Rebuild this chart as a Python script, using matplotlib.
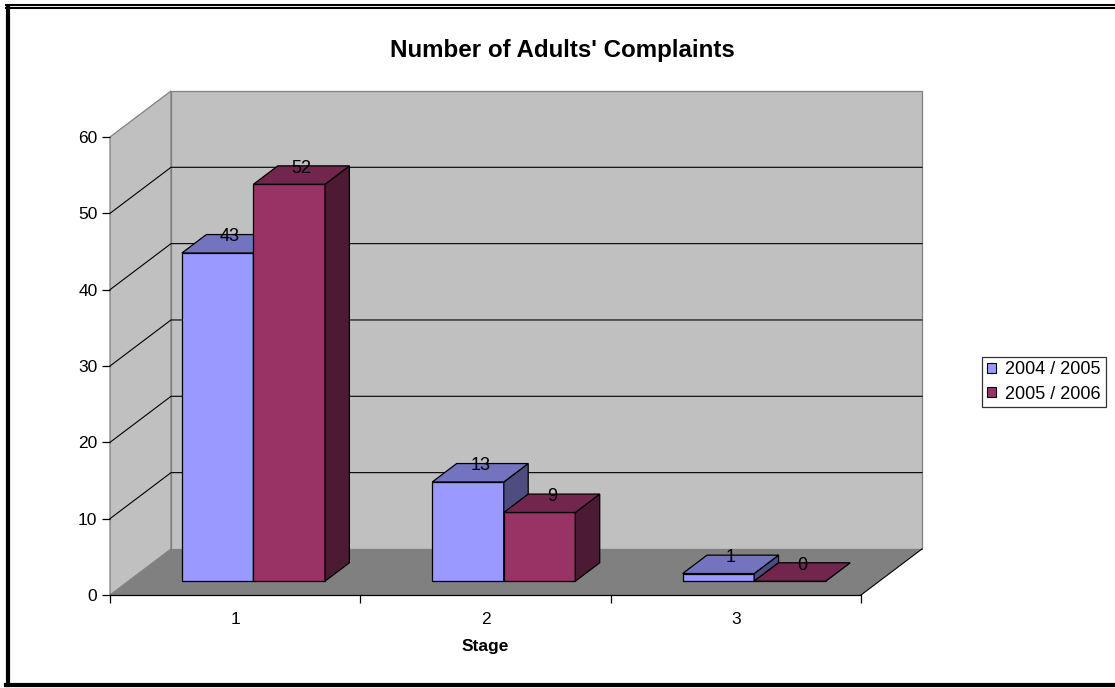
import matplotlib
matplotlib.use("Agg")
import matplotlib.pyplot as plt
import numpy as np
from matplotlib.patches import Polygon, Patch
from matplotlib.lines import Line2D

plt.rcParams["font.family"] = ["Liberation Sans", "DejaVu Sans"]

# data
categories = ["1", "2", "3"]
series_names = ["2004 / 2005", "2005 / 2006"]
values_0405 = [43, 13, 1]
values_0506 = [52, 9, 0]
y_ticks = [0, 10, 20, 30, 40, 50, 60]
title = "Number of Adults' Complaints"
x_title = "Stage"

# styling
W, H = 1115, 688
FRONT = ["#9999FF", "#993366"]
TOP = ["#7373BF", "#73264D"]
SIDE = ["#4D4D80", "#4D1A33"]
WALL = "#C0C0C0"
FLOOR = "#808080"
EDGE_GRAY = "#808080"
DX, DY = 0.2437, 6.03        # full depth offset in (category, value) units
BAR_W = 1 / 3.5              # gap width 150%
D0, D1 = 0.3, 0.7            # bar depth range
FS = 12.5


def proj(x, y, d):
    return (x + d * DX, y + d * DY)


fig = plt.figure(figsize=(W / 100, H / 100), dpi=100)
ax = fig.add_axes([110 / W, (H - 595) / H, 751 / W, 458 / H])
ax.set_xlim(0.5, len(categories) + 0.5)
ax.set_ylim(y_ticks[0], y_ticks[-1])
ax.patch.set_visible(False)

xl, xr = 0.5, len(categories) + 0.5
ymin, ymax = y_ticks[0], y_ticks[-1]

# floor
floor = Polygon([proj(xl, ymin, 0), proj(xr, ymin, 0), proj(xr, ymin, 1), proj(xl, ymin, 1)],
                closed=True, facecolor=FLOOR, edgecolor="none", clip_on=False, zorder=0.5)
ax.add_patch(floor)
ax.add_line(Line2D(*zip(proj(xr, ymin, 0), proj(xr, ymin, 1)), color="black", lw=0.8,
                   clip_on=False, zorder=0.6))

# walls
left_wall = Polygon([proj(xl, ymin, 0), proj(xl, ymin, 1), proj(xl, ymax, 1), proj(xl, ymax, 0)],
                    closed=True, facecolor=WALL, edgecolor=EDGE_GRAY, lw=0.9, clip_on=False, zorder=0.5)
back_wall = Polygon([proj(xl, ymin, 1), proj(xr, ymin, 1), proj(xr, ymax, 1), proj(xl, ymax, 1)],
                    closed=True, facecolor=WALL, edgecolor=EDGE_GRAY, lw=0.9, clip_on=False, zorder=0.5)
ax.add_patch(left_wall)
ax.add_patch(back_wall)

# gridlines
for v in y_ticks[1:-1]:
    pts = [proj(xl, v, 0), proj(xl, v, 1), proj(xr, v, 1)]
    ax.add_line(Line2D([p[0] for p in pts], [p[1] for p in pts], color="black", lw=0.8,
                       clip_on=False, zorder=1))

# bars
for i, cat in enumerate(categories):
    c = i + 1
    for j, vals in enumerate([values_0405, values_0506]):
        v = vals[i]
        x0 = c - BAR_W + j * BAR_W
        x1 = x0 + BAR_W
        z = 3 + i * 0.1 + j * 0.01
        front = [proj(x0, 0, D0), proj(x1, 0, D0), proj(x1, v, D0), proj(x0, v, D0)]
        top = [proj(x0, v, D0), proj(x1, v, D0), proj(x1, v, D1), proj(x0, v, D1)]
        side = [proj(x1, 0, D0), proj(x1, 0, D1), proj(x1, v, D1), proj(x1, v, D0)]
        for pts, col in [(front, FRONT[j]), (side, SIDE[j]), (top, TOP[j])]:
            ax.add_patch(Polygon(pts, closed=True, facecolor=col, edgecolor="black",
                                 lw=0.9, clip_on=False, zorder=z, joinstyle="miter"))
        ax.annotate(str(v), xy=proj((x0 + x1) / 2, v, 0.5), xytext=(0, 5),
                    textcoords="offset points", ha="center", va="center",
                    fontsize=13, zorder=5)

# axes
for s in ["top", "right", "left"]:
    ax.spines[s].set_visible(False)
ax.spines["bottom"].set_color("black")
ax.spines["bottom"].set_linewidth(0.9)
ax.set_yticks(y_ticks)
ax.tick_params(axis="y", direction="out", length=6, width=0.9, pad=3, labelsize=FS)
ax.set_xticks(np.arange(len(categories) + 1) + 0.5)
ax.set_xticklabels([])
ax.set_xticks(np.arange(1, len(categories) + 1), minor=True)
ax.set_xticklabels(categories, minor=True)
ax.tick_params(axis="x", which="major", direction="out", length=6, width=0.9)
ax.tick_params(axis="x", which="minor", length=0, pad=12, labelsize=FS)
ax.set_xlabel(x_title, fontsize=FS, fontweight="bold", labelpad=9)

fig.text(562 / W, 1 - 50 / H, title, ha="center", va="center",
         fontsize=17.4, fontweight="bold")

handles = [Patch(facecolor=FRONT[k], edgecolor="black", lw=0.8) for k in range(2)]
leg = fig.legend(handles, series_names, loc="center left",
                 bbox_to_anchor=(982 / W, 1 - 382 / H), fontsize=13,
                 frameon=True, fancybox=False, edgecolor="black",
                 handlelength=0.5, handleheight=0.5, handletextpad=0.55,
                 borderpad=0.25, labelspacing=0.4, borderaxespad=0)
leg.get_frame().set_linewidth(0.9)

# outer border
def fx(p):
    return p / W


def fy(p):
    return 1 - p / H


fig.add_artist(Line2D([fx(6), fx(W)], [fy(5), fy(5)], color="black", lw=1.5))
fig.add_artist(Line2D([fx(6), fx(W)], [fy(8), fy(8)], color="black", lw=1.5))
fig.add_artist(Line2D([fx(8), fx(8)], [fy(7), fy(685)], color="black", lw=3))
fig.add_artist(Line2D([fx(6), fx(W)], [fy(685), fy(685)], color="black", lw=3))

fig.savefig("out.png", dpi=100)
